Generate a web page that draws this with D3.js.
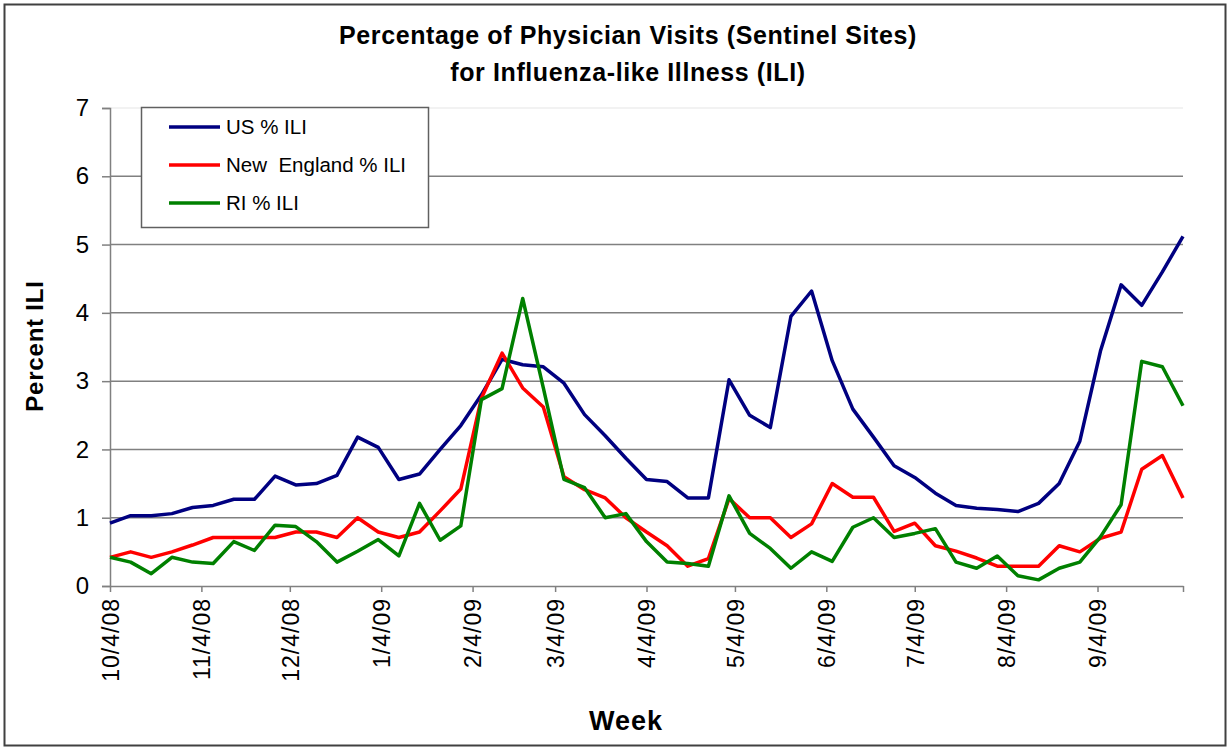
<!DOCTYPE html>
<html>
<head>
<meta charset="utf-8">
<script src="https://cdn.jsdelivr.net/npm/d3@7"></script>
<style>
    body { margin: 0; background: #ffffff; }
    text { font-family: "Liberation Sans", Arial, sans-serif; }
</style>
</head>
<body>
<svg class="ili" width="1228" height="748"></svg>
<script>
// weekly report dates (week ending)
var weeks = ["10/4/08", "10/11/08", "10/18/08", "10/25/08", "11/1/08", "11/8/08", "11/15/08", "11/22/08", "11/29/08",
    "12/6/08", "12/13/08", "12/20/08", "12/27/08", "1/3/09", "1/10/09", "1/17/09", "1/24/09", "1/31/09",
    "2/7/09", "2/14/09", "2/21/09", "2/28/09", "3/7/09", "3/14/09", "3/21/09", "3/28/09",
    "4/4/09", "4/11/09", "4/18/09", "4/25/09", "5/2/09", "5/9/09", "5/16/09", "5/23/09", "5/30/09",
    "6/6/09", "6/13/09", "6/20/09", "6/27/09", "7/4/09", "7/11/09", "7/18/09", "7/25/09",
    "8/1/09", "8/8/09", "8/15/09", "8/22/09", "8/29/09", "9/5/09", "9/12/09", "9/19/09", "9/26/09", "10/3/09"];

var usILI = [0.92, 1.03, 1.03, 1.06, 1.15, 1.18, 1.27, 1.27, 1.61, 1.48,
    1.50, 1.62, 2.18, 2.03, 1.56, 1.64, 2.0, 2.35, 2.8, 3.32,
    3.24, 3.21, 2.97, 2.51, 2.20, 1.87, 1.56, 1.53, 1.29, 1.29,
    3.02, 2.50, 2.32, 3.95, 4.32, 3.30, 2.59, 2.18, 1.76, 1.59,
    1.36, 1.18, 1.14, 1.12, 1.09, 1.21, 1.50, 2.12, 3.44, 4.41,
    4.11, 4.6, 5.12];

var neILI = [0.42, 0.50, 0.42, 0.50, 0.60, 0.71, 0.71, 0.71, 0.71, 0.79,
    0.79, 0.71, 1.0, 0.79, 0.71, 0.79, 1.10, 1.42, 2.75, 3.41,
    2.90, 2.62, 1.60, 1.41, 1.29, 1.00, 0.79, 0.59, 0.29, 0.40,
    1.28, 1.00, 1.00, 0.71, 0.91, 1.50, 1.30, 1.30, 0.80, 0.92,
    0.59, 0.51, 0.41, 0.29, 0.29, 0.29, 0.59, 0.50, 0.70, 0.79,
    1.71, 1.91, 1.29];

var riILI = [0.42, 0.35, 0.18, 0.42, 0.35, 0.33, 0.65, 0.52, 0.89, 0.87,
    0.65, 0.35, 0.51, 0.68, 0.44, 1.21, 0.67, 0.88, 2.73, 2.89,
    4.21, 2.9, 1.56, 1.44, 1.00, 1.06, 0.65, 0.35, 0.33, 0.29,
    1.32, 0.77, 0.55, 0.26, 0.50, 0.36, 0.86, 1.0, 0.71, 0.77,
    0.84, 0.35, 0.26, 0.44, 0.15, 0.09, 0.26, 0.35, 0.72, 1.19,
    3.29, 3.21, 2.64];

var seriesNames = ["US % ILI", "New  England % ILI", "RI % ILI"];
var seriesColors = ["#000080", "#ff0000", "#008000"];
var tickLabels = ["10/4/08", "11/4/08", "12/4/08", "1/4/09", "2/4/09", "3/4/09",
    "4/4/09", "5/4/09", "6/4/09", "7/4/09", "8/4/09", "9/4/09"];
var yTicks = [0, 1, 2, 3, 4, 5, 6, 7];

function drawChart() {
    var parse = d3.timeParse("%m/%d/%y");
    var dates = weeks.map(w => parse(w));
    var series = [usILI, neILI, riILI];

    var svg = d3.select(".ili"),
        width = +svg.attr("width"),
        height = +svg.attr("height");

    var left = 110, right = 1183, top = 108, bottom = 586;

    // outer frame
    svg.append("rect")
        .attr("x", 4.5).attr("y", 4.5)
        .attr("width", width - 7).attr("height", height - 7)
        .attr("fill", "#ffffff")
        .attr("stroke", "#404040")
        .attr("stroke-width", 2);

    var x = d3.scaleTime()
        .domain([dates[0], dates[dates.length - 1]])
        .range([left, right]);

    var y = d3.scaleLinear()
        .domain([0, 7])
        .range([bottom, top]);

    // gridlines
    svg.append("g")
        .selectAll("line")
        .data(yTicks.filter(d => d > 0))
        .enter()
        .append("line")
        .attr("x1", left).attr("x2", right)
        .attr("y1", d => y(d)).attr("y2", d => y(d))
        .attr("stroke", d => d == 7 ? "#eeeeee" : "#808080")
        .attr("stroke-width", 1.5);

    // y axis
    var yAxis = svg.append("g")
        .attr("transform", "translate(" + left + ",0)")
        .call(d3.axisLeft(y).tickValues(yTicks).tickSize(8).tickPadding(13).tickFormat(d3.format("d")));
    yAxis.select(".domain").attr("stroke", "#808080").attr("stroke-width", 1.5);
    yAxis.selectAll(".tick line").attr("stroke", "#808080").attr("stroke-width", 1.5);
    yAxis.selectAll("text")
        .style("font-size", "24px")
        .attr("fill", "#000000")
        .attr("font-family", null);

    // x axis
    var tickDates = tickLabels.map(t => parse(t));
    var xAxis = svg.append("g")
        .attr("transform", "translate(0," + bottom + ")")
        .call(d3.axisBottom(x)
            .tickValues(tickDates.concat([dates[dates.length - 1]]))
            .tickSize(6)
            .tickSizeOuter(0)
            .tickFormat((d, i) => i < tickLabels.length ? tickLabels[i] : ""));
    xAxis.select(".domain").attr("stroke", "#808080").attr("stroke-width", 1.5);
    xAxis.selectAll(".tick line").attr("stroke", "#808080").attr("stroke-width", 1.5);
    xAxis.selectAll("text")
        .style("font-size", "23px")
        .style("letter-spacing", "1px")
        .attr("fill", "#000000")
        .attr("font-family", null)
        .attr("text-anchor", "end")
        .attr("transform", "rotate(-90)")
        .attr("x", -12)
        .attr("y", 0)
        .attr("dy", "0.36em");

    // lines
    var line = d3.line()
        .x((d, i) => x(dates[i]))
        .y(d => y(d));

    svg.append("g")
        .selectAll("path")
        .data(series)
        .enter()
        .append("path")
        .attr("d", d => line(d))
        .attr("fill", "none")
        .attr("stroke", (d, i) => seriesColors[i])
        .attr("stroke-width", 3.5)
        .attr("stroke-linejoin", "round");

    // legend
    var legend = svg.append("g");
    legend.append("rect")
        .attr("x", 141.5).attr("y", 107.5)
        .attr("width", 287).attr("height", 120)
        .attr("fill", "#ffffff")
        .attr("stroke", "#606060")
        .attr("stroke-width", 1.5);
    seriesNames.forEach((name, i) => {
        var ly = 127 + i * 38;
        legend.append("line")
            .attr("x1", 169).attr("x2", 220)
            .attr("y1", ly).attr("y2", ly)
            .attr("stroke", seriesColors[i])
            .attr("stroke-width", 3.5);
        legend.append("text")
            .attr("x", 226).attr("y", ly)
            .attr("dy", "0.36em")
            .style("font-size", "20.5px")
            .style("white-space", "pre")
            .attr("xml:space", "preserve")
            .text(name);
    });

    // titles
    svg.append("text")
        .attr("x", 628).attr("y", 44)
        .attr("text-anchor", "middle")
        .style("font-size", "25px")
        .style("letter-spacing", "0.6px")
        .style("font-weight", "bold")
        .text("Percentage of Physician Visits (Sentinel Sites)");
    svg.append("text")
        .attr("x", 628).attr("y", 81)
        .attr("text-anchor", "middle")
        .style("font-size", "25px")
        .style("letter-spacing", "0.6px")
        .style("font-weight", "bold")
        .text("for Influenza-like Illness (ILI)");

    svg.append("text")
        .attr("transform", "translate(43,346) rotate(-90)")
        .attr("text-anchor", "middle")
        .style("font-size", "24px")
        .style("letter-spacing", "0.8px")
        .style("font-weight", "bold")
        .text("Percent ILI");

    svg.append("text")
        .attr("x", 626).attr("y", 730)
        .attr("text-anchor", "middle")
        .style("font-size", "27px")
        .style("letter-spacing", "1px")
        .style("font-weight", "bold")
        .text("Week");
}

drawChart();
</script>
</body>
</html>
